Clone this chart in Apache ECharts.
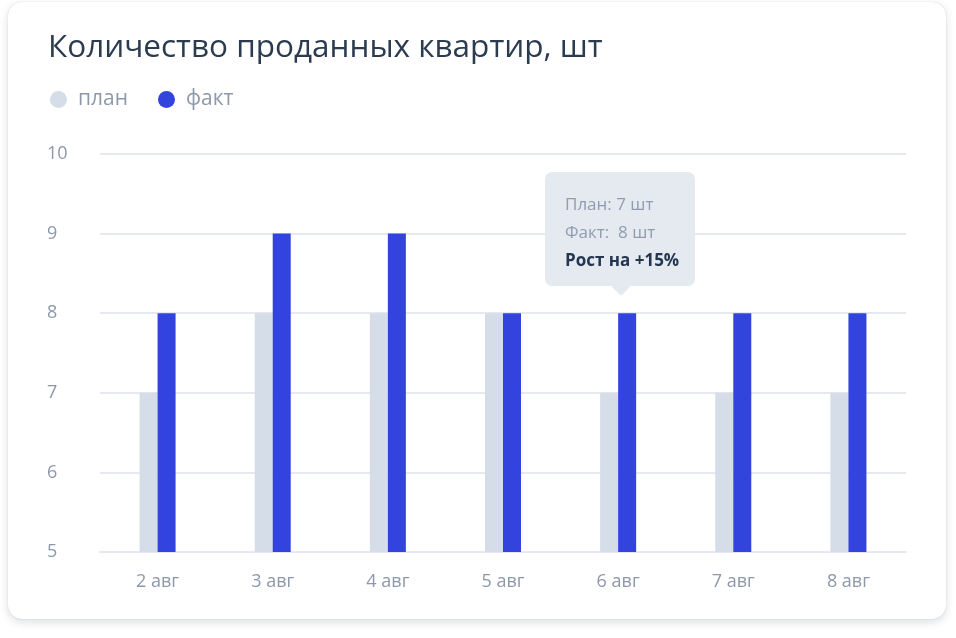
<!DOCTYPE html>
<html>
<head>
<meta charset="utf-8">
<script src="https://cdn.jsdelivr.net/npm/echarts@6/dist/echarts.min.js"></script>
<style>
html,body{margin:0;padding:0;background:#ffffff;width:956px;height:638px;overflow:hidden;}
#card{position:absolute;left:8px;top:2px;width:938px;height:617px;border-radius:14px;background:#fff;
 box-shadow:0 3px 9px rgba(40,50,70,0.16), 0 0 1px rgba(40,50,70,0.25);}
#chart{position:absolute;left:0;top:0;width:956px;height:638px;}
</style>
</head>
<body>
<div id="card"></div>
<div id="chart"></div>
<script>
const categories = ['2 авг','3 авг','4 авг','5 авг','6 авг','7 авг','8 авг'];
const planValues = [7, 8, 8, 8, 7, 7, 7];
const factValues = [8, 9, 9, 8, 8, 8, 8];
const seriesNames = ['план', 'факт'];
const titleText = 'Количество проданных квартир, шт';
const highlightIndex = 4;
const growthText = 'Рост на +15%';

const FONT = '"Open Sans", Lato, sans-serif';
const chart = echarts.init(document.getElementById('chart'), null, {renderer:'canvas'});

const option = {
  animation: false,
  backgroundColor: 'transparent',
  title: {
    text: titleText, left: 43, top: 27,
    textStyle: {fontFamily: FONT, fontSize: 31.5, fontWeight: 'normal', color: '#2b3b50'}
  },
  legend: {
    left: 45, top: 84, icon: 'circle', itemWidth: 17, itemHeight: 17, itemGap: 30,
    data: seriesNames,
    textStyle: {fontFamily: FONT, fontSize: 21, color: '#8d98aa', padding: [0,0,0,6]}
  },
  grid: {left: 100, right: 50, top: 154, bottom: 86},
  tooltip: {
    trigger: 'axis',
    axisPointer: {type: 'none'},
    alwaysShowContent: true,
    transitionDuration: 0,
    backgroundColor: 'transparent',
    borderWidth: 0,
    padding: 0,
    extraCssText: 'box-shadow:none;',
    position: function (point, params, dom, rect, size) {
      const idx = params[0].dataIndex;
      const p = chart.convertToPixel({xAxisIndex: 0, yAxisIndex: 0}, [idx, factValues[idx]]);
      return [p[0] - 73, p[1] - 141];
    },
    formatter: function (params) {
      const i = params[0].dataIndex;
      return '<div style="position:relative;width:110px;background:#e5eaf1;border-radius:7px;padding:18px 20px 12px 20px;font-family:' + FONT.replace(/"/g,"'") + ';font-size:17px;line-height:28px;white-space:nowrap;">' +
        '<div style="color:#909cb0;">План: ' + planValues[i] + ' шт</div>' +
        '<div style="color:#909cb0;">Факт:&nbsp; ' + factValues[i] + ' шт</div>' +
        '<div style="color:#243650;font-weight:bold;">' + growthText + '</div>' +
        '<div style="position:absolute;left:69px;bottom:-7px;width:14px;height:14px;background:#e5eaf1;transform:rotate(45deg);border-radius:2px;"></div>' +
        '</div>';
    }
  },
  xAxis: {
    type: 'category', data: categories,
    axisLine: {lineStyle: {color: '#e6e9ef', width: 2}},
    axisTick: {show: false},
    axisLabel: {margin: 21, fontFamily: FONT, fontSize: 18, color: '#8d98aa'}
  },
  yAxis: {
    type: 'value', min: 5, max: 10, interval: 1,
    axisLine: {show: false}, axisTick: {show: false},
    splitLine: {lineStyle: {color: '#e6e9ef', width: 2}},
    axisLabel: {margin: 53, align: 'left', fontFamily: FONT, fontSize: 18, color: '#8d98aa'}
  },
  series: [
    {name: seriesNames[0], type: 'bar', data: planValues, barWidth: 18, barGap: '0%',
     itemStyle: {color: '#d4dde8'}, emphasis: {disabled: true}},
    {name: seriesNames[1], type: 'bar', data: factValues, barWidth: 18,
     itemStyle: {color: '#3343de'}, emphasis: {disabled: true}}
  ]
};
chart.setOption(option);
chart.dispatchAction({type: 'showTip', seriesIndex: 1, dataIndex: highlightIndex});
</script>
</body>
</html>
